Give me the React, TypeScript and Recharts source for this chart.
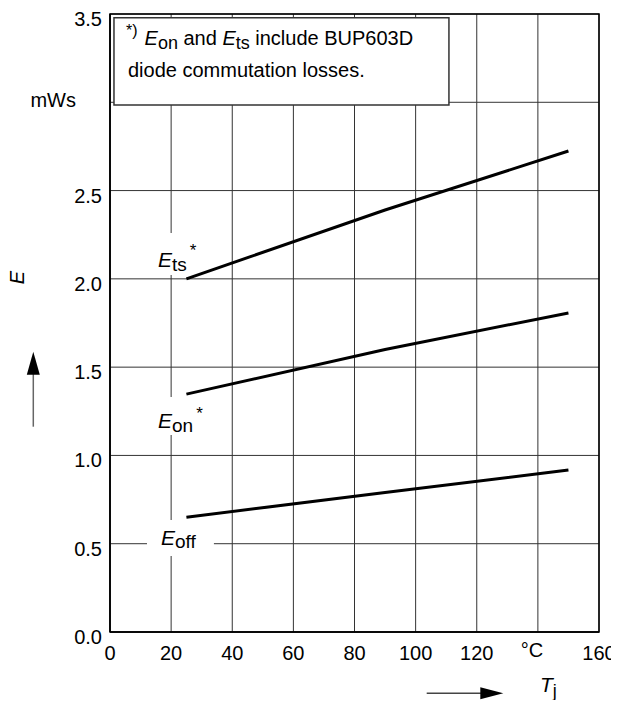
import React from 'react';
import { LineChart, Line, XAxis, YAxis, CartesianGrid, ReferenceArea } from 'recharts';

const temperatures = [25, 90, 150];
const eTs = [2.0, 2.39, 2.724];
const eOn = [1.347, 1.6, 1.807];
const eOff = [0.65, 0.79, 0.917];

const xTicks = [0, 20, 40, 60, 80, 100, 120, 140, 160];
const yTicks = [0, 0.5, 1, 1.5, 2, 2.5, 3, 3.5];
const xTickLabels: Record<number, string> = { 140: '°C' };
const yTickLabels: Record<number, string> = { 3: 'mWs' };

const data = temperatures.map((t, i) => ({ t, ts: eTs[i], on: eOn[i], off: eOff[i] }));

const FONT = "'Liberation Sans', Arial, Helvetica, sans-serif";

const YTick = (props: any) => {
  const { x, y, payload } = props;
  const v = payload.value;
  if (yTickLabels[v]) {
    return (
      <text x={x - 26} y={y + 5} textAnchor="end" fontFamily={FONT} fontSize={20} fill="#000">
        {yTickLabels[v]}
      </text>
    );
  }
  return (
    <text x={x} y={y + 12} textAnchor="end" fontFamily={FONT} fontSize={20} fill="#000">
      {Number(v).toFixed(1)}
    </text>
  );
};

const XTick = (props: any) => {
  const { x, y, payload } = props;
  const v = payload.value;
  if (xTickLabels[v]) {
    return (
      <text x={x - 6} y={y + 25} textAnchor="middle" fontFamily={FONT} fontSize={20} fill="#000">
        {xTickLabels[v]}
      </text>
    );
  }
  return (
    <text x={x} y={y + 28} textAnchor="middle" fontFamily={FONT} fontSize={20} fill="#000">
      {String(v)}
    </text>
  );
};

const renderTsLabel = (props: any) => {
  const vb = props.viewBox;
  if (!vb) return null;
  return (
    <text x={vb.x + 8} y={vb.y + 34} fontFamily={FONT} fontSize={21} fill="#000">
      <tspan fontStyle="italic">E</tspan>
      <tspan fontSize={19} dy={4}>ts</tspan>
      <tspan fontSize={17} dy={-15} dx={3}>*</tspan>
    </text>
  );
};

const renderOnLabel = (props: any) => {
  const vb = props.viewBox;
  if (!vb) return null;
  return (
    <text x={vb.x + 8} y={vb.y + 31} fontFamily={FONT} fontSize={21} fill="#000">
      <tspan fontStyle="italic">E</tspan>
      <tspan fontSize={19} dy={4}>on</tspan>
      <tspan fontSize={17} dy={-13} dx={3}>*</tspan>
    </text>
  );
};

const renderOffLabel = (props: any) => {
  const vb = props.viewBox;
  if (!vb) return null;
  return (
    <text x={vb.x + 14} y={vb.y + 25} fontFamily={FONT} fontSize={21} fill="#000">
      <tspan fontStyle="italic">E</tspan>
      <tspan fontSize={19} dy={3}>off</tspan>
    </text>
  );
};

const renderNote = (props: any) => {
  const vb = props.viewBox;
  if (!vb) return null;
  return (
    <g>
      <text x={vb.x + 12} y={vb.y + 27} fontFamily={FONT} fontSize={20} fill="#000">
        <tspan fontSize={16} dy={-9}>*)</tspan>
        <tspan dy={9} dx={7} fontStyle="italic">E</tspan>
        <tspan fontSize={18} dy={4}>on</tspan>
        <tspan dy={-4}> and </tspan>
        <tspan fontStyle="italic">E</tspan>
        <tspan fontSize={18} dy={4}>ts</tspan>
        <tspan dy={-4}> include BUP603D</tspan>
      </text>
      <text x={vb.x + 14} y={vb.y + 59} fontFamily={FONT} fontSize={20} fill="#000">
        diode commutation losses.
      </text>
    </g>
  );
};

const renderYLabel = (props: any) => {
  const vb = props.viewBox;
  if (!vb) return null;
  const ax = vb.x + 25.3;
  const tip = vb.y + 337.7;
  const bottom = vb.y + 412.7;
  const ex = vb.x + 16;
  const ey = vb.y + 263.5;
  return (
    <g>
      <g transform={`translate(${ex} ${ey}) rotate(-90)`}>
        <text x={0} y={0} textAnchor="middle" fontFamily={FONT} fontSize={20} fontStyle="italic" fill="#000">
          E
        </text>
      </g>
      <line x1={ax} y1={bottom} x2={ax} y2={tip + 20} stroke="#666" strokeWidth={1.5} />
      <polygon points={`${ax},${tip} ${ax - 6.5},${tip + 23} ${ax + 6.5},${tip + 23}`} fill="#000" />
    </g>
  );
};

const renderXLabel = (props: any) => {
  const vb = props.viewBox;
  if (!vb) return null;
  const y = vb.y + 61.3;
  const x0 = vb.x + 316.7;
  const tip = vb.x + 393.3;
  const tx = vb.x + 430;
  return (
    <g>
      <line x1={x0} y1={y} x2={tip - 20} y2={y} stroke="#444" strokeWidth={1.5} />
      <polygon points={`${tip},${y} ${tip - 23},${y - 6} ${tip - 23},${y + 6}`} fill="#000" />
      <text x={tx} y={y - 1} fontFamily={FONT} fontSize={21} fill="#000">
        <tspan fontStyle="italic">T</tspan>
        <tspan fontSize={18} dy={5}>j</tspan>
      </text>
    </g>
  );
};

export default function App() {
  return (
    <LineChart
      width={611}
      height={692}
      data={data}
      margin={{ top: 6, right: 20, bottom: 0, left: 0 }}
      style={{ fontFamily: FONT }}
    >
      <CartesianGrid stroke="#333" strokeWidth={1} horizontalValues={yTicks} verticalValues={xTicks} />
      <XAxis
        dataKey="t"
        type="number"
        domain={[0, 160]}
        ticks={xTicks}
        interval={0}
        allowDataOverflow
        height={68}
        tickSize={0}
        tickMargin={0}
        tickLine={false}
        tick={<XTick />}
        axisLine={{ stroke: '#000', strokeWidth: 1.5 }}
        label={renderXLabel}
      />
      <YAxis
        type="number"
        domain={[0, 3.5]}
        ticks={yTicks}
        interval={0}
        allowDataOverflow
        width={102}
        tickSize={0}
        tickMargin={8}
        tickLine={false}
        tick={<YTick />}
        axisLine={{ stroke: '#000', strokeWidth: 1.5 }}
        label={renderYLabel}
      />
      <ReferenceArea x1={0} x2={160} y1={0} y2={3.5} fill="none" stroke="#000" strokeWidth={1.5} fillOpacity={0} />
      <ReferenceArea x1={1.3} x2={110.9} y1={2.985} y2={3.479} fill="#fff" fillOpacity={1} stroke="#333" strokeWidth={1.5} label={renderNote} />
      <ReferenceArea x1={13.1} x2={29.5} y1={2.022} y2={2.26} fill="#fff" fillOpacity={1} stroke="none" label={renderTsLabel} />
      <ReferenceArea x1={13.1} x2={31.1} y1={1.116} y2={1.331} fill="#fff" fillOpacity={1} stroke="none" label={renderOnLabel} />
      <ReferenceArea x1={12.1} x2={34.0} y1={0.43} y2={0.634} fill="#fff" fillOpacity={1} stroke="none" label={renderOffLabel} />
      <Line type="linear" dataKey="ts" stroke="#000" strokeWidth={3} dot={false} isAnimationActive={false} />
      <Line type="linear" dataKey="on" stroke="#000" strokeWidth={3} dot={false} isAnimationActive={false} />
      <Line type="linear" dataKey="off" stroke="#000" strokeWidth={3} dot={false} isAnimationActive={false} />
    </LineChart>
  );
}
